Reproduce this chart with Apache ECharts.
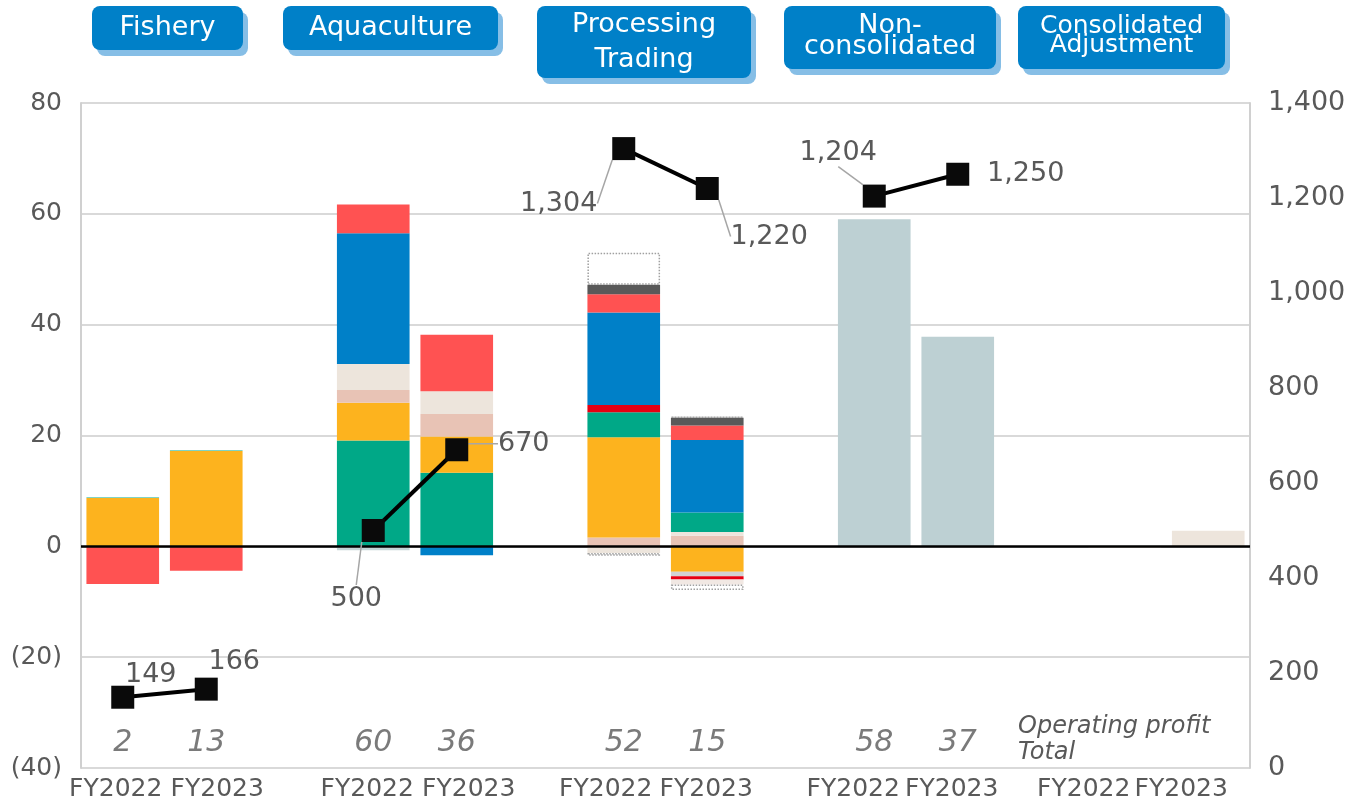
<!DOCTYPE html>
<html>
<head>
<meta charset="utf-8">
<script src="https://cdn.jsdelivr.net/npm/echarts@6/dist/echarts.min.js"></script>
<style>html,body{margin:0;padding:0;background:#fff}#c{width:1349px;height:802px}</style>
</head>
<body>
<div id="c"></div>
<script>
// ---------- DATA ----------
const categories = ['FY2022','FY2023','','FY2022','FY2023','','FY2022','FY2023','','FY2022','FY2023','','FY2022','FY2023'];
const groupTitles = ['Fishery','Aquaculture','Processing\nTrading','Non-\nconsolidated','Consolidated\nAdjustment'];
const leftTicks = [-40,-20,0,20,40,60,80];
const rightTicks = [0,200,400,600,800,1000,1200,1400];

// Fishery (group 0)
const fisheryOrange = [8.7, 17.2];
const fisheryTeal   = [0.2, 0.2];
const fisheryRed    = [-6.8, -4.4];
// Aquaculture (group 1)
const aquaGreen  = [19.1, 13.3];
const aquaOrange = [6.8, 6.5];
const aquaPink   = [2.3, 4.1];
const aquaBeige  = [4.7, 4.1];
const aquaBlue   = [23.6, -1.6];
const aquaRed    = [5.2, 10.2];
const aquaOther  = [-0.7, null];
// Processing / Trading (group 2)
const procPink     = [1.6, 1.9];
const procBeige    = [-1.2, 0.7];
const procOrange   = [18.1, -4.6];
const procGreen    = [4.5, 3.5];
const procGray     = [null, -0.8];
const procCrimson  = [1.3, -0.6];
const procBlue     = [16.7, 13.1];
const procRed      = [3.3, 2.6];
const procDark     = [1.7, 1.4];
const procLight    = [null, -0.9];
const procOtherPos = [5.8, 0.2];
const procOtherNeg = [-0.5, -1.0];
// Non-consolidated (group 3)
const nonConsol = [59.0, 37.8];
// Consolidated adjustment (group 4)
const consolAdj = [-0.3, 2.8];

// Right-axis line values per group
const lineFishery = [149, 166];
const lineAqua    = [500, 670];
const lineProc    = [1304, 1220];
const lineNonCon  = [1204, 1250];

// Operating profit totals (groups 0..3)
const totals = [2, 13, 60, 36, 52, 15, 58, 37];

// ---------- STYLE ----------
const C = {
  green:'#00A887', orange:'#FDB31E', pink:'#E8C3B5', beige:'#EDE5DC', blue:'#0080C8',
  red:'#FF5252', crimson:'#E60012', dark:'#595959', grayblue:'#BDD0D3', teal:'#80D4C3',
  lgray:'#D3D3D3', light:'#F1E8E3', aquaOther:'#C5D5D6', white:'#FFFFFF'
};
const TXT = '#595959';
const FONT = 'DejaVu Sans';
// horizontal shift (px) of each category label relative to its bar centre
const xLabelShift = [-7,11,0,-6,12,0,-18,-1,0,-21,-6,0,-41,-27];

function place(vals, g){
  const a = new Array(categories.length).fill('-');
  vals.forEach((v,k)=>{ if(v !== null && v !== undefined) a[3*g+k] = v; });
  return a;
}

const segments = [
  [fisheryOrange,0,'orange'],[fisheryTeal,0,'teal'],[fisheryRed,0,'red'],
  [aquaGreen,1,'green'],[aquaOrange,1,'orange'],[aquaPink,1,'pink'],[aquaBeige,1,'beige'],
  [aquaBlue,1,'blue'],[aquaRed,1,'red'],[aquaOther,1,'aquaOther'],
  [procPink,2,'pink'],[procBeige,2,'beige'],[procOrange,2,'orange'],[procGreen,2,'green'],
  [procGray,2,'lgray'],[procCrimson,2,'crimson'],[procBlue,2,'blue'],[procRed,2,'red'],
  [procDark,2,'dark'],[procLight,2,'light'],[procOtherPos,2,'white'],[procOtherNeg,2,'white'],
  [nonConsol,3,'grayblue'],
  [consolAdj,4,'beige']
];

const series = segments.map(([vals,g,col]) => ({
  type:'bar', stack:'total', barWidth:'87%', z:2,
  data: place(vals,g),
  itemStyle: col === 'white'
    ? {color:'#FFFFFF', borderColor:'#A0A0A0', borderWidth:1.5, borderType:'dotted'}
    : {color:C[col]},
  emphasis:{disabled:true}, silent:true
}));

// zero line
series.push({
  type:'line', data:[], z:4, silent:true,
  markLine:{silent:true, symbol:'none', label:{show:false},
    lineStyle:{color:'#000', width:2.5, type:'solid'}, data:[{yAxis:0}]}
});

// lines (right axis)
const lineSets = [[lineFishery,0],[lineAqua,1],[lineProc,2],[lineNonCon,3]];
// label offsets (dx,dy from point) and leader-line flags, per point
const labelOffsets = [
  [[28,-22,false],[28,-27,false]],
  [[-17,68,true],[67,-6,true]],
  [[-65,55,true],[62,48,true]],
  [[-36,-43,true],[68,0,false]]
];
lineSets.forEach(([vals,g]) => {
  const offs = labelOffsets[g];
  series.push({
    type:'line', yAxisIndex:1, z:6, silent:true,
    data: place(vals,g).map((v,i)=> v === '-' ? '-' : {value:v, labelLine:{show: offs[i-3*g][2]}}),
    symbol:'rect', symbolSize:23,
    itemStyle:{color:'#0A0A0A'},
    lineStyle:{color:'#000', width:4},
    label:{show:true, position:'inside', color:TXT, fontSize:27, fontFamily:FONT,
      formatter:p=>Number(p.value).toLocaleString('en-US')},
    labelLine:{show:true, lineStyle:{color:'#A6A6A6', width:1.5}},
    labelLayout:(p)=>{ const o = offs[p.dataIndex-3*g]; return {dx:o[0], dy:o[1]}; }
  });
});

// totals row (italic)
const totalData = [];
totals.forEach((t,i)=>{ const g = Math.floor(i/2), k = i%2; totalData.push([3*g+k, -35.5, t]); });
series.push({
  type:'scatter', yAxisIndex:0, symbolSize:0, z:5, silent:true,
  data: totalData,
  label:{show:true, position:'inside', formatter:p=>String(p.value[2]),
    color:TXT, fontSize:30, fontStyle:'italic', fontFamily:FONT}
});

// ---------- HEADER BOXES ----------
const boxes = [
  {x:92, y:6, w:151, h:44, fs:27, lh:30, dy:0},
  {x:283, y:6, w:215, h:44, fs:27, lh:30, dy:0},
  {x:537, y:6, w:214, h:72, fs:27, lh:35, dy:0},
  {x:784, y:6, w:212, h:63, fs:27, lh:21, dy:-1},
  {x:1018, y:6, w:207, h:63, fs:25, lh:19, dy:-2}
];
const graphics = [];
boxes.forEach((b,i)=>{
  graphics.push({type:'rect', silent:true, shape:{x:b.x+5, y:b.y+6, width:b.w, height:b.h, r:8}, style:{fill:'#86BEE6'}});
  graphics.push({type:'rect', silent:true, shape:{x:b.x, y:b.y, width:b.w, height:b.h, r:8}, style:{fill:'#0080C8'}});
  graphics.push({type:'text', silent:true, x:b.x+b.w/2, y:b.y+b.h/2 + b.dy,
    style:{text:groupTitles[i], fill:'#FFFFFF', fontSize:b.fs, fontFamily:FONT, lineHeight:b.lh,
      align:'center', verticalAlign:'middle'}});
});
graphics.push({type:'text', silent:true, left:1018, top:714,
  style:{text:'Operating profit\nTotal', fill:TXT, fontSize:24, fontStyle:'italic', fontFamily:FONT, lineHeight:26}});

// ---------- CHART ----------
const chart = echarts.init(document.getElementById('c'), null, {renderer:'canvas'});
chart.setOption({
  animation:false,
  textStyle:{fontFamily:FONT},
  grid:{left:81, right:99, top:103, bottom:32, containLabel:false},
  xAxis:{type:'category', data:categories,
    axisLine:{show:true, lineStyle:{color:'#D0D0D0', width:2}},
    axisTick:{show:false},
    axisLabel:{color:TXT, fontSize:25, margin:9, interval:0,
      formatter:(v, idx)=> {
        if(!v) return '';
        const s = xLabelShift[idx];
        return s < 0 ? '{l' + (-s) + '|' + v + '}' : '{r' + s + '|' + v + '}';
      },
      rich:(function(){
        const r = {};
        xLabelShift.forEach(s=>{
          if(s < 0) r['l'+(-s)] = {color:TXT, fontSize:25, fontFamily:FONT, padding:[0,-2*s,0,0]};
          else r['r'+s] = {color:TXT, fontSize:25, fontFamily:FONT, padding:[0,0,0,2*s]};
        });
        return r;
      })()
    }
  },
  yAxis:[
    {type:'value', min:leftTicks[0], max:leftTicks[leftTicks.length-1], interval:20,
      axisLine:{show:true, lineStyle:{color:'#D0D0D0', width:2}},
      axisTick:{show:false},
      splitLine:{show:true, lineStyle:{color:'#D9D9D9', width:2}},
      axisLabel:{color:TXT, fontSize:25, margin:19,
        formatter:v=> v<0 ? '('+(-v)+')' : String(v)}},
    {type:'value', min:rightTicks[0], max:rightTicks[rightTicks.length-1], interval:200,
      axisLine:{show:true, lineStyle:{color:'#D0D0D0', width:2}},
      axisTick:{show:false},
      splitLine:{show:false},
      axisLabel:{color:TXT, fontSize:27, margin:18,
        formatter:v=> v.toLocaleString('en-US')}}
  ],
  series:series,
  graphic:graphics
});
</script>
</body>
</html>
